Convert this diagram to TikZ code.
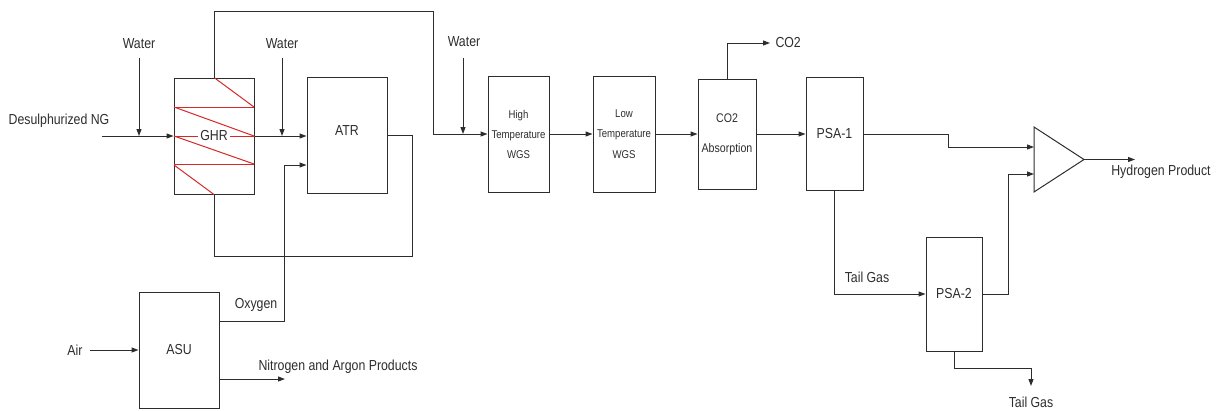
\documentclass[tikz,border=0pt]{standalone}
\usepackage{fontspec}
\setmainfont{Liberation Sans}[FakeStretch=0.85]
\usetikzlibrary{arrows.meta}

\definecolor{linegray}{RGB}{45,45,45}
\definecolor{coilred}{RGB}{215,40,40}

\begin{document}
\begin{tikzpicture}[x=1pt, y=-1pt, line width=1pt, draw=linegray,
    unit/.style={draw=linegray, rectangle, inner sep=0pt, text=linegray,
      font=\fontsize{14.5}{17}\selectfont},
    lbl/.style={text=linegray, inner sep=0pt, font=\fontsize{14.5}{17}\selectfont},
    arr/.style={-{Triangle[length=7pt,width=5pt]}}]
      \useasboundingbox (0,0) rectangle (1223,410);
      % process units
      \node[unit, minimum width=80pt, minimum height=116pt] (GHR) at (214,136) {};
      \node[unit, minimum width=80pt, minimum height=116pt] (ATR) at (347,135) {};
      \node[anchor=north, text=linegray, inner sep=0pt, font=\fontsize{14.5}{17}\selectfont] (ATRlbl) at (347,125) {ATR};
      \node[unit, minimum width=61pt, minimum height=116pt, align=center,
        font=\fontsize{11.3}{20}\selectfont] (HT) at (518.5,134) {High\\Temperature\\WGS};
      \node[unit, minimum width=62pt, minimum height=116pt, align=center,
        font=\fontsize{11.3}{20.5}\selectfont] (LT) at (624,134) {Low\\Temperature\\WGS};
      \node[unit, minimum width=58pt, minimum height=110pt, align=center,
        font=\fontsize{12.5}{30}\selectfont] (ABS) at (727,134) {CO2\\Absorption};
      \node[unit, minimum width=57pt, minimum height=113pt] (PSA1) at (834.5,134) {PSA-1};
      \node[unit, minimum width=56pt, minimum height=114pt] (PSA2) at (954,294) {PSA-2};
      \node[unit, minimum width=80pt, minimum height=116pt] (ASU) at (179,350) {ASU};
      % mixer
      \coordinate (mixtop) at (1034,127);
      \coordinate (mixbot) at (1034,192);
      \coordinate (mixtip) at (1084,159.5);
      \draw (mixtop) -- (mixtip) -- (mixbot) -- cycle;
      % coil in the GHR
      \draw[coilred] (GHR.north) -- (254,107);
      \draw[coilred] (174,107) -- (254,107);
      \draw[coilred] (174,107) -- (254,136);
      \draw[coilred] (GHR.west) -- (GHR.east);
      \draw[coilred] (174,136) -- (254,164);
      \draw[coilred] (174,164) -- (254,164);
      \draw[coilred] (174,165) -- (GHR.south);
      \node[fill=white, inner sep=2pt, text=linegray, font=\fontsize{14.5}{17}\selectfont] (GHRlbl) at (GHR.center) {GHR};
      % labels
      \node[lbl] (ng) at (59,121) {Desulphurized NG};
      \node[lbl] (w1) at (139,44) {Water};
      \node[lbl] (w2) at (282,44) {Water};
      \node[lbl] (w3) at (464,42) {Water};
      \node[lbl, anchor=west] (co2) at (775,43) {CO2};
      \node[lbl] (h2) at (1161,172) {Hydrogen Product};
      \node[lbl] (tg1) at (867,277) {Tail Gas};
      \node[lbl] (tg2) at (1031,402) {Tail Gas};
      \node[lbl] (air) at (75,350) {Air};
      \node[lbl] (oxy) at (256,305) {Oxygen};
      \node[lbl] (nar) at (338,367) {Nitrogen and Argon Products};
      % free ends
      \coordinate (ngin) at (102,136);
      \coordinate (w1in) at (139,58);
      \coordinate (w2in) at (282,58);
      \coordinate (w3in) at (463,58);
      \coordinate (airin) at (90,350);
      \coordinate (o2out) at (219,321);
      \coordinate (o2in) at (284,165);
      \coordinate (n2out) at (219,379);
      \coordinate (n2end) at (285,379);
      \coordinate (co2end) at (770,43);
      \coordinate (h2end) at (1135,159.5);
      \coordinate (tgend) at (1031,386);
      % streams
      \draw[arr] (ngin) -- (GHR.west);
      \draw[arr] (w1in) -- (w1in |- GHR.west);
      \draw[arr] (GHR.east) -- (GHR.east -| ATR.west);
      \draw[arr] (w2in) -- (w2in |- GHR.west);
      \draw (ATR.east) -| (412,256) -| (GHR.south);
      \draw[arr] (GHR.north) |- (433,11) |- (HT.west);
      \draw[arr] (w3in) -- (w3in |- HT.west);
      \draw[arr] (HT.east) -- (LT.west);
      \draw[arr] (LT.east) -- (ABS.west);
      \draw[arr] (ABS.east) -- (PSA1.west);
      \draw[arr] (ABS.north) |- (co2end);
      \draw[arr] (PSA1.east) -| (948,147) -- (1034,147);
      \draw[arr] (PSA1.south) |- (PSA2.west);
      \draw[arr] (PSA2.east) -| (1008,174) -- (1034,174);
      \draw[arr] (PSA2.south) |- (tgend |- 0,368) -- (tgend);
      \draw[arr] (mixtip) -- (h2end);
      \draw[arr] (airin) -- (ASU.west);
      \draw[arr] (o2out) -| (o2in) -- (o2in -| ATR.west);
      \draw[arr] (n2out) -- (n2end);
    \end{tikzpicture}
\end{document}
